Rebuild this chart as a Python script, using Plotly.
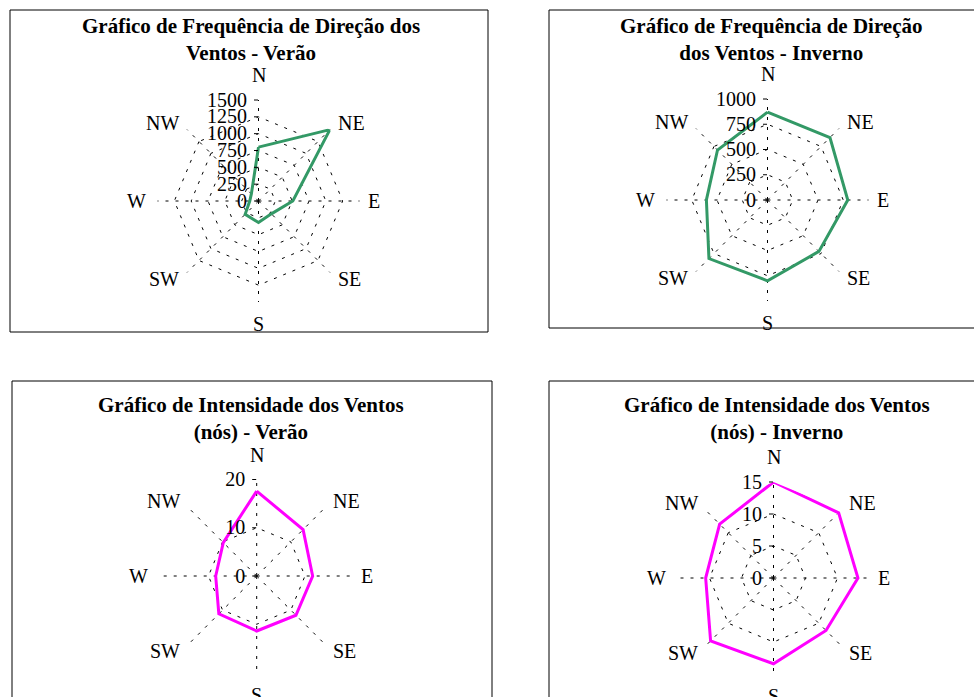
import math
import plotly.graph_objects as go

W, H = 974, 697

# Wind directions (clockwise from north)
directions = ["N", "NE", "E", "SE", "S", "SW", "W", "NW"]

# Frequency of wind direction (counts)
freq_verao = [800, 1500, 510, 270, 320, 280, 130, 150]
freq_inverno = [870, 875, 795, 720, 800, 820, 605, 700]

# Wind intensity (knots)
int_verao = [17.6, 13.6, 11.6, 11.5, 11.4, 11.1, 8.5, 9.8]
int_inverno = [15.0, 14.4, 13.2, 11.6, 13.4, 13.9, 10.6, 11.9]

titles = [
    "Gráfico de Frequência de Direção dos<br>Ventos - Verão",
    "Gráfico de Frequência de Direção<br>dos Ventos - Inverno",
    "Gráfico de Intensidade dos Ventos<br>(nós) - Verão",
    "Gráfico de Intensidade dos Ventos<br>(nós) - Inverno",
]

# compass label placement: gap (px) beyond the outer ring and text anchoring
label_gap = [13, 10, 7, 10, 10, 10, 11, 10]
label_anchor = [("center", "bottom"), ("left", "middle"), ("left", "middle"),
                ("left", "middle"), ("center", "top"), ("right", "middle"),
                ("right", "middle"), ("right", "middle")]

GREEN = "#339966"
MAGENTA = "#FF00FF"
FONT = "Liberation Serif"

# panel settings: values, colour, radial max, radial step, polar centre/radius (px), frame (px), title centre (px)
panels = [
    dict(values=freq_verao, color=GREEN, rmax=1500, step=250,
         c=(258.5, 201), R=101, box=(10, 10, 488, 332), title=(251, 39.5)),
    dict(values=freq_inverno, color=GREEN, rmax=1000, step=250,
         c=(767.5, 200), R=101, box=(549, 10, 1000, 328), title=(771, 39.5)),
    dict(values=int_verao, color=MAGENTA, rmax=20, step=10,
         c=(256.7, 576), R=96.5, box=(12, 381, 492, 710), title=(251, 418)),
    dict(values=int_inverno, color=MAGENTA, rmax=15, step=5,
         c=(773.5, 578), R=96, box=(549, 381, 1010, 710), title=(777, 418)),
]

fig = go.Figure()
layout = dict(
    width=W, height=H,
    margin=dict(l=0, r=0, t=0, b=0),
    paper_bgcolor="white",
    showlegend=False,
    shapes=[], annotations=[],
)

for i, p in enumerate(panels):
    name = "polar" if i == 0 else f"polar{i + 1}"
    cx, cy = p["c"]
    R = p["R"]
    theta = directions + directions[:1]
    r = p["values"] + p["values"][:1]
    fig.add_trace(go.Scatterpolar(
        r=r, theta=theta, mode="lines",
        line=dict(color=p["color"], width=3),
        subplot=name, hoverinfo="skip",
    ))
    # origin marker
    fig.add_trace(go.Scatterpolar(
        r=[0], theta=["N"], mode="markers",
        marker=dict(symbol="asterisk-open", size=7, color="black",
                    line=dict(color="black", width=1)),
        subplot=name, hoverinfo="skip",
    ))
    layout[name] = dict(
        domain=dict(x=[(cx - R) / W, (cx + R) / W],
                    y=[1 - (cy + R) / H, 1 - (cy - R) / H]),
        gridshape="linear",
        bgcolor="white",
        angularaxis=dict(
            type="category", categoryorder="array", categoryarray=directions,
            direction="clockwise", rotation=90,
            showline=False, showgrid=True, showticklabels=False, ticks="",
            gridcolor="black", gridwidth=1, griddash="3px,7px",
        ),
        radialaxis=dict(
            range=[0, p["rmax"] * 1.0001], dtick=p["step"], tick0=0,
            angle=90, tickangle=90, side="counterclockwise",
            showline=False, showgrid=True,
            gridcolor="black", gridwidth=1, griddash="3px,7px",
            ticks="outside", ticklen=4, tickcolor="black",
            tickfont=dict(family=FONT, size=20, color="black"),
        ),
    )
    # compass labels around the outer ring
    for k, d in enumerate(directions):
        ang = math.radians(90 - 45 * k)
        dist = R + label_gap[k]
        px = cx + dist * math.cos(ang)
        py = cy - dist * math.sin(ang)
        xa, ya = label_anchor[k]
        layout["annotations"].append(dict(
            xref="paper", yref="paper", x=px / W, y=1 - py / H,
            xanchor=xa, yanchor=ya, showarrow=False, borderpad=0,
            text=d, font=dict(family=FONT, size=20, color="black"),
        ))
    x0, y0, x1, y1 = p["box"]
    layout["shapes"].append(dict(
        type="rect", xref="paper", yref="paper",
        x0=x0 / W, x1=x1 / W, y0=1 - y1 / H, y1=1 - y0 / H,
        line=dict(color="black", width=1), fillcolor="rgba(0,0,0,0)",
    ))
    tx, ty = p["title"]
    layout["annotations"].append(dict(
        xref="paper", yref="paper", x=tx / W, y=1 - ty / H,
        xanchor="center", yanchor="middle", showarrow=False,
        text="<b>" + titles[i] + "</b>",
        font=dict(family=FONT, size=21, color="black"),
    ))

fig.update_layout(**layout)
fig.write_html("out.html")
